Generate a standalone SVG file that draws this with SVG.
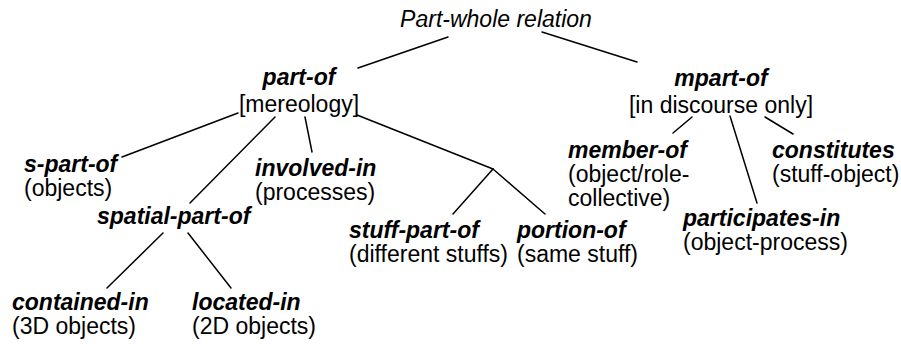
<svg xmlns="http://www.w3.org/2000/svg" width="901" height="344" viewBox="0 0 901 344">
<style>
text{font-family:"Liberation Sans",Arial,Helvetica,sans-serif;font-size:23px;fill:#000}
.t{font-style:italic}
.b{font-style:italic;font-weight:bold}
.c{text-anchor:middle}
#connectors line{stroke:#000;stroke-width:1.5;stroke-linecap:round}
</style>
<rect width="901" height="344" fill="#fff"/>
<g id="connectors">
<line x1="448" y1="37" x2="358" y2="68"/>
<line x1="542" y1="32" x2="637" y2="62"/>
<line x1="238" y1="113" x2="122" y2="157"/>
<line x1="275" y1="117" x2="190" y2="203"/>
<line x1="305" y1="117" x2="312" y2="152"/>
<line x1="357" y1="115" x2="493" y2="169"/>
<line x1="493" y1="169" x2="453" y2="214"/>
<line x1="493" y1="169" x2="545" y2="214"/>
<line x1="163" y1="233" x2="107" y2="288"/>
<line x1="188" y1="233" x2="231" y2="288"/>
<line x1="692" y1="117" x2="673" y2="133"/>
<line x1="730" y1="116" x2="757" y2="203"/>
<line x1="765" y1="117" x2="793" y2="134"/>
</g>
<g id="root"><text class="t c" x="496" y="27">Part-whole relation</text></g>
<g id="part-of"><text class="b c" x="299" y="85">part-of</text><text class="c" x="299" y="112">[mereology]</text></g>
<g id="mpart-of"><text class="b c" x="721" y="86">mpart-of</text><text class="c" x="721" y="113">[in discourse only]</text></g>
<g id="s-part-of"><text class="b" x="24" y="172">s-part-of</text><text x="24" y="196">(objects)</text></g>
<g id="involved-in"><text class="b" x="255" y="176">involved-in</text><text x="255" y="200">(processes)</text></g>
<g id="spatial-part-of"><text class="b" x="97" y="224">spatial-part-of</text></g>
<g id="stuff-part-of"><text class="b" x="349" y="238">stuff-part-of</text><text x="349" y="262">(different stuffs)</text></g>
<g id="portion-of"><text class="b" x="517" y="238">portion-of</text><text x="517" y="262">(same stuff)</text></g>
<g id="contained-in"><text class="b" x="12" y="310">contained-in</text><text x="12" y="334">(3D objects)</text></g>
<g id="located-in"><text class="b" x="192" y="310">located-in</text><text x="192" y="334">(2D objects)</text></g>
<g id="member-of"><text class="b" x="568" y="158">member-of</text><text x="568" y="182">(object/role-</text><text x="568" y="206">collective)</text></g>
<g id="constitutes"><text class="b" x="772" y="158">constitutes</text><text x="772" y="182">(stuff-object)</text></g>
<g id="participates-in"><text class="b" x="683" y="226">participates-in</text><text x="683" y="250">(object-process)</text></g>
</svg>
